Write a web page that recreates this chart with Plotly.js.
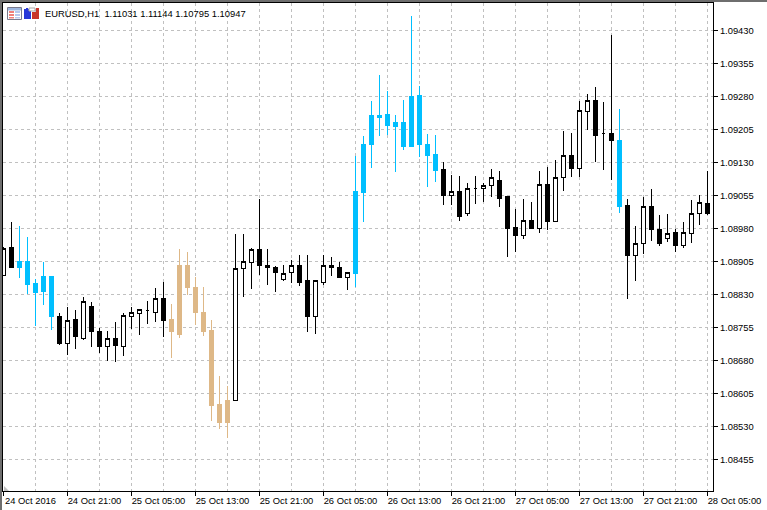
<!DOCTYPE html>
<html><head><meta charset="utf-8">
<script src="https://cdn.plot.ly/plotly-3.0.1.min.js"></script>
<style>
html,body{margin:0;padding:0;background:#fff;width:767px;height:510px;overflow:hidden}
#chart{position:absolute;left:0;top:0;width:767px;height:510px}
.boxlayer path{shape-rendering:crispEdges}
</style></head><body><div id="chart"></div>
<script>
const times=['2016-10-24 13:00','2016-10-24 14:00','2016-10-24 15:00','2016-10-24 16:00','2016-10-24 17:00','2016-10-24 18:00','2016-10-24 19:00','2016-10-24 20:00','2016-10-24 21:00','2016-10-24 22:00','2016-10-24 23:00',
'2016-10-25 00:00','2016-10-25 01:00','2016-10-25 02:00','2016-10-25 03:00','2016-10-25 04:00','2016-10-25 05:00','2016-10-25 06:00','2016-10-25 07:00','2016-10-25 08:00','2016-10-25 09:00','2016-10-25 10:00','2016-10-25 11:00','2016-10-25 12:00','2016-10-25 13:00','2016-10-25 14:00','2016-10-25 15:00','2016-10-25 16:00','2016-10-25 17:00','2016-10-25 18:00','2016-10-25 19:00','2016-10-25 20:00','2016-10-25 21:00','2016-10-25 22:00','2016-10-25 23:00',
'2016-10-26 00:00','2016-10-26 01:00','2016-10-26 02:00','2016-10-26 03:00','2016-10-26 04:00','2016-10-26 05:00','2016-10-26 06:00','2016-10-26 07:00','2016-10-26 08:00','2016-10-26 09:00','2016-10-26 10:00','2016-10-26 11:00','2016-10-26 12:00','2016-10-26 13:00','2016-10-26 14:00','2016-10-26 15:00','2016-10-26 16:00','2016-10-26 17:00','2016-10-26 18:00','2016-10-26 19:00','2016-10-26 20:00','2016-10-26 21:00','2016-10-26 22:00','2016-10-26 23:00',
'2016-10-27 00:00','2016-10-27 01:00','2016-10-27 02:00','2016-10-27 03:00','2016-10-27 04:00','2016-10-27 05:00','2016-10-27 06:00','2016-10-27 07:00','2016-10-27 08:00','2016-10-27 09:00','2016-10-27 10:00','2016-10-27 11:00','2016-10-27 12:00','2016-10-27 13:00','2016-10-27 14:00','2016-10-27 15:00','2016-10-27 16:00','2016-10-27 17:00','2016-10-27 18:00','2016-10-27 19:00','2016-10-27 20:00','2016-10-27 21:00','2016-10-27 22:00','2016-10-27 23:00',
'2016-10-28 00:00','2016-10-28 01:00','2016-10-28 02:00','2016-10-28 03:00','2016-10-28 04:00','2016-10-28 05:00'];
const open=[1.08873,1.08936,1.08905,1.08905,1.08854,1.08836,1.08870,1.08781,1.08718,1.08774,1.08731,1.08802,1.08745,1.08711,1.08729,1.08711,1.08781,1.08786,1.08793,1.08790,1.08820,1.08774,1.08740,1.08895,1.08847,1.08790,1.08749,1.08579,1.08540,1.08588,1.08888,1.08902,1.08933,1.08897,1.08892,1.08863,1.08879,1.08895,1.08861,1.08779,1.08858,1.08897,1.08892,1.08868,1.08877,1.09061,1.09170,1.09233,1.09213,1.09220,1.09167,1.09167,1.09283,1.09172,1.09149,1.09113,1.09054,1.09063,1.09013,1.09070,1.09070,1.09077,1.09088,1.09052,1.08983,1.08963,1.08999,1.08979,1.09079,1.08997,1.09095,1.09145,1.09117,1.09247,1.09270,1.09197,1.09197,1.09181,1.09033,1.08918,1.08945,1.09031,1.08977,1.08958,1.08970,1.08942,1.08968,1.09015,1.09036];
const high=[1.08937,1.08995,1.08986,1.08960,1.08865,1.08904,1.08872,1.08788,1.08802,1.08795,1.08824,1.08813,1.08754,1.08747,1.08768,1.08788,1.08802,1.08795,1.08815,1.08845,1.08858,1.08808,1.08933,1.08927,1.08870,1.08847,1.08772,1.08645,1.08622,1.08968,1.08968,1.08936,1.09047,1.08933,1.08895,1.08897,1.08908,1.08920,1.08920,1.08863,1.08920,1.08915,1.08904,1.08881,1.09145,1.09190,1.09270,1.09329,1.09292,1.09238,1.09272,1.09463,1.09304,1.09195,1.09192,1.09131,1.09102,1.09099,1.09083,1.09099,1.09083,1.09115,1.09111,1.09052,1.09024,1.09047,1.09040,1.09111,1.09120,1.09136,1.09202,1.09197,1.09270,1.09286,1.09302,1.09267,1.09420,1.09252,1.09047,1.08986,1.09052,1.09070,1.09011,1.09013,1.08979,1.08995,1.09045,1.09056,1.09111];
const low=[1.08873,1.08892,1.08868,1.08831,1.08758,1.08806,1.08749,1.08715,1.08693,1.08706,1.08727,1.08711,1.08697,1.08679,1.08677,1.08690,1.08752,1.08738,1.08763,1.08768,1.08734,1.08686,1.08731,1.08829,1.08761,1.08736,1.08543,1.08524,1.08504,1.08588,1.08824,1.08843,1.08874,1.08852,1.08836,1.08861,1.08856,1.08849,1.08745,1.08740,1.08852,1.08872,1.08868,1.08840,1.08847,1.08995,1.09117,1.09190,1.09192,1.09108,1.09158,1.09165,1.09143,1.09074,1.09086,1.09033,1.09033,1.08997,1.09008,1.09036,1.09040,1.09052,1.09029,1.08915,1.08927,1.08956,1.08979,1.08970,1.08977,1.08997,1.09065,1.09097,1.09097,1.09204,1.09131,1.09113,1.09090,1.09015,1.08820,1.08861,1.08922,1.08952,1.08940,1.08949,1.08927,1.08936,1.08947,1.08988,1.09011];
const close=[1.08935,1.08892,1.08892,1.08852,1.08834,1.08870,1.08779,1.08718,1.08772,1.08734,1.08813,1.08745,1.08711,1.08729,1.08713,1.08783,1.08790,1.08795,1.08793,1.08820,1.08772,1.08745,1.08895,1.08845,1.08788,1.08747,1.08577,1.08540,1.08590,1.08888,1.08904,1.08933,1.08895,1.08892,1.08879,1.08877,1.08895,1.08858,1.08779,1.08861,1.08897,1.08892,1.08868,1.08879,1.09063,1.09172,1.09236,1.09236,1.09238,1.09211,1.09220,1.09279,1.09170,1.09147,1.09111,1.09054,1.09063,1.09008,1.09070,1.09070,1.09077,1.09095,1.09049,1.08979,1.08963,1.08999,1.08979,1.09079,1.08995,1.09095,1.09145,1.09117,1.09249,1.09270,1.09192,1.09197,1.09179,1.09031,1.08918,1.08945,1.09031,1.08977,1.08945,1.08968,1.08942,1.08970,1.09015,1.09040,1.09013];
const kinds=('kkbbbbbkkkkkkkkkkkkkk'+'tttttttt'+'kkkkkkkkkkkkkkk'+'bbbbbbbbbbb'+'kkkkkkkkkkkkkkkkkkkkkk'+'b'+'kkkkkkkkkkk').split('');
const priceTicks=[1.09430,1.09355,1.09280,1.09205,1.09130,1.09055,1.08980,1.08905,1.08830,1.08755,1.08680,1.08605,1.08530,1.08455];
const dateTicks=['2016-10-24 13:00','2016-10-24 21:00','2016-10-25 05:00','2016-10-25 13:00','2016-10-25 21:00','2016-10-26 05:00','2016-10-26 13:00','2016-10-26 21:00','2016-10-27 05:00','2016-10-27 13:00','2016-10-27 21:00','2016-10-28 05:00'];
const dateLabels=['24 Oct 2016','24 Oct 21:00','25 Oct 05:00','25 Oct 13:00','25 Oct 21:00','26 Oct 05:00','26 Oct 13:00','26 Oct 21:00','27 Oct 05:00','27 Oct 13:00','27 Oct 21:00','28 Oct 05:00'];
const infoText='EURUSD,H1  1.11031 1.11144 1.10795 1.10947';
const W=710,H=488,L=3,T=3;
const FONT='"Liberation Sans",Arial,sans-serif';
const FS=9.4;
function pick(arr,k){return arr.filter((_,i)=>kinds[i]===k);}
function candle(k,upFill,dnFill,lineColor){
  return {type:'candlestick',x:pick(times,k),open:pick(open,k),high:pick(high,k),low:pick(low,k),close:pick(close,k),
    whiskerwidth:0,showlegend:false,hoverinfo:'skip',
    increasing:{line:{color:lineColor,width:1},fillcolor:upFill},
    decreasing:{line:{color:lineColor,width:1},fillcolor:dnFill}};
}
const traces=[candle('k','#ffffff','#000000','#000000'),candle('b','#00BFFF','#00BFFF','#00BFFF'),candle('t','#DEB887','#DEB887','#DEB887')];
const px=v=>(v-L)/W, py=v=>1-(v-T)/H;
function box(x0,y0,x1,y1,fill,line){return {type:'rect',xref:'paper',yref:'paper',x0:px(x0),x1:px(x1),y0:py(y0),y1:py(y1),fillcolor:fill,line:{width:line?1:0,color:line||fill},layer:'above'};}
const shapes=[
 box(0,0,767,2,'#6e6e6e'),box(0,0,2,510,'#6e6e6e'),
 box(7.5,7.5,21.5,19.5,'#ffffff','#7a7a8c'),box(8,8,21,10.5,'#9fb8e0'),
 box(9,11,14,13,'#f0807a'),box(15,11,20,13,'#b8c8ee'),box(9,14,14,16,'#f0807a'),box(15,14,20,16,'#b8c8ee'),box(9,17,14,18.5,'#f0807a'),box(15,17,20,18.5,'#b8c8ee'),
 box(24,9,31,19,'#2838d8'),box(26,8,28,11,'#2838d8'),box(29,8,35,11,'#ffffff','#a8a8a8'),
 box(32,12,39,19,'#c83428'),box(36,8,39,13,'#c83428'),
 {type:'path',xref:'paper',yref:'paper',path:`M ${px(4)} ${py(491)} L ${px(4)} ${py(486)} L ${px(9)} ${py(491)} Z`,fillcolor:'#c0c0c0',line:{width:0},layer:'above'}
];
const layout={width:767,height:510,margin:{l:L,r:54,t:T,b:19,pad:0},paper_bgcolor:'#ffffff',plot_bgcolor:'#ffffff',showlegend:false,boxgap:0.38,
 font:{family:FONT,size:FS,color:'#000'},
 xaxis:{type:'date',range:['2016-10-24 12:56:15','2016-10-28 05:41:15'],rangeslider:{visible:false},
   tickmode:'array',tickvals:dateTicks,ticktext:dateLabels,tickangle:0,ticks:'outside',ticklen:4,tickcolor:'#000',tickwidth:1,
   ticklabelshift:27,ticklabelstandoff:-3,ticklabeloverflow:'allow',tickfont:{family:FONT,size:FS,color:'#000'},
   showgrid:true,gridcolor:'#c0c0c0',gridwidth:1,griddash:'3px,3px',
   minor:{dtick:4*3600000,tick0:'2016-10-24 13:00',showgrid:true,gridcolor:'#c0c0c0',gridwidth:1,griddash:'3px,3px',ticks:''},
   showline:true,linecolor:'#000',linewidth:1,mirror:true,zeroline:false,fixedrange:true},
 yaxis:{side:'right',range:[1.083834,1.094925],tickmode:'array',tickvals:priceTicks,ticktext:priceTicks.map(v=>v.toFixed(5)),
   ticks:'outside',ticklen:4,tickcolor:'#000',tickwidth:1,tickfont:{family:FONT,size:FS,color:'#000'},
   showgrid:true,gridcolor:'#c0c0c0',gridwidth:1,griddash:'3px,3px',
   showline:true,linecolor:'#000',linewidth:1,mirror:true,zeroline:false,fixedrange:true},
 annotations:[{xref:'paper',yref:'paper',x:px(44),y:py(13.5),xanchor:'left',yanchor:'middle',showarrow:false,text:infoText,font:{family:FONT,size:FS,color:'#000'},align:'left',borderpad:0,bgcolor:'rgba(0,0,0,0)'}],
 shapes:shapes};
Plotly.newPlot('chart',traces,layout,{staticPlot:true,displayModeBar:false});
</script></body></html>
